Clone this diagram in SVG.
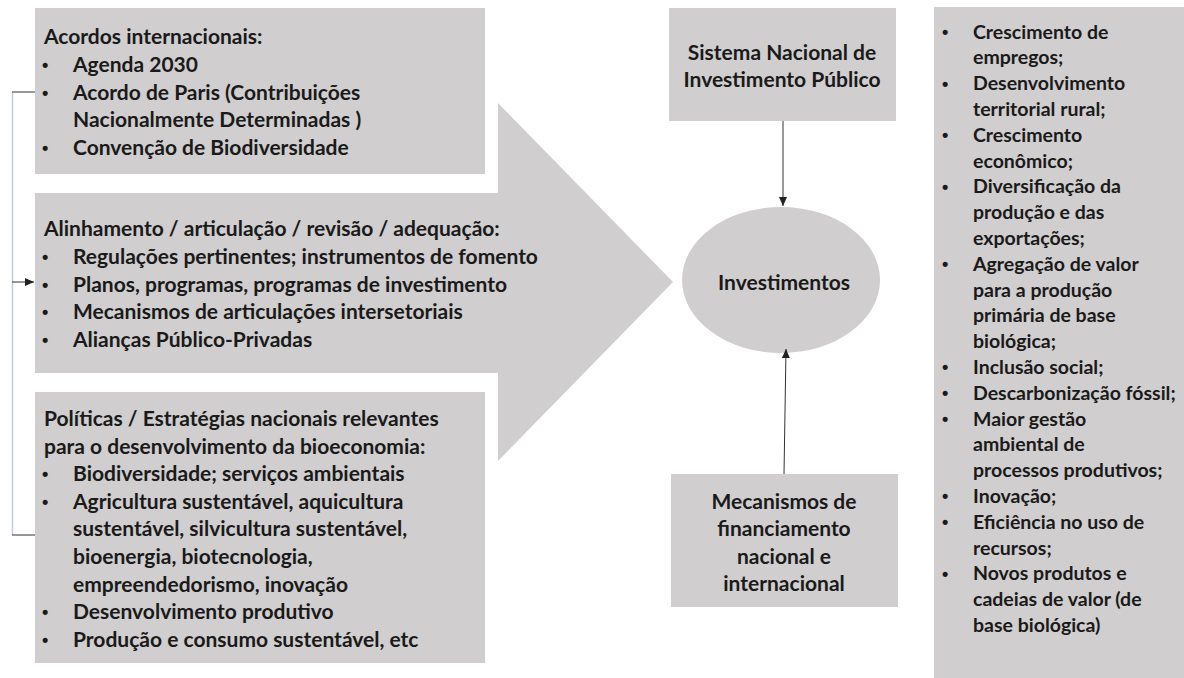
<svg xmlns="http://www.w3.org/2000/svg" width="1184" height="678" viewBox="0 0 1184 678">
  <defs>
    <style>
      .box { fill: #d0cece; }
      .t { font-family: Lato, "Open Sans", sans-serif; font-weight: bold; fill: #1a1a1a; font-size: 21px; }
      .r { font-family: Lato, "Open Sans", sans-serif; font-weight: bold; fill: #1a1a1a; font-size: 19.5px; }
      .c { text-anchor: middle; }
      .b { font-family: "Liberation Sans", Arial, sans-serif; font-weight: bold; fill: #1a1a1a; font-size: 18px; }
      .line { stroke: #333; stroke-width: 1; fill: none; }
      .vline { stroke: #c3cbe0; stroke-width: 1.5; fill: none; }
    </style>
    <marker id="arr" markerUnits="userSpaceOnUse" markerWidth="10" markerHeight="10" refX="9" refY="4" orient="auto">
      <path d="M0,0 L9,4 L0,8 Z" fill="#222"/>
    </marker>
  </defs>
  <rect width="1184" height="678" fill="#ffffff"/>

  <g id="big-arrow">
    <polygon class="box" points="35,193 498,193 498,103 673,282 498,461 498,373 35,373"/>
  </g>

  <g id="acordos">
    <rect class="box" x="35" y="8" width="450" height="166"/>
    <text class="t" x="44" y="44">Acordos internacionais:</text>
    <text class="b" x="42" y="71">•</text>
    <text class="t" x="73" y="72">Agenda 2030</text>
    <text class="b" x="42" y="99">•</text>
    <text class="t" x="73" y="100">Acordo de Paris (Contribuições</text>
    <text class="t" x="73" y="127">Nacionalmente Determinadas )</text>
    <text class="b" x="42" y="154">•</text>
    <text class="t" x="73" y="155">Convenção de Biodiversidade</text>
  </g>

  <g id="alinhamento">
    <text class="t" x="44" y="236">Alinhamento / articulação / revisão / adequação:</text>
    <text class="b" x="42" y="263">•</text>
    <text class="t" x="73" y="264">Regulações pertinentes; instrumentos de fomento</text>
    <text class="b" x="42" y="291">•</text>
    <text class="t" x="73" y="292">Planos, programas, programas de investimento</text>
    <text class="b" x="42" y="318">•</text>
    <text class="t" x="73" y="319">Mecanismos de articulações intersetoriais</text>
    <text class="b" x="42" y="346">•</text>
    <text class="t" x="73" y="347">Alianças Público-Privadas</text>
  </g>

  <g id="politicas">
    <rect class="box" x="35" y="392" width="450" height="271"/>
    <text class="t" x="44" y="426">Políticas / Estratégias nacionais relevantes</text>
    <text class="t" x="44" y="454">para o desenvolvimento da bioeconomia:</text>
    <text class="b" x="42" y="480">•</text>
    <text class="t" x="73" y="481">Biodiversidade; serviços ambientais</text>
    <text class="b" x="42" y="508">•</text>
    <text class="t" x="73" y="509">Agricultura sustentável, aquicultura</text>
    <text class="t" x="73" y="536">sustentável, silvicultura sustentável,</text>
    <text class="t" x="73" y="564">bioenergia, biotecnologia,</text>
    <text class="t" x="73" y="592">empreendedorismo, inovação</text>
    <text class="b" x="42" y="618">•</text>
    <text class="t" x="73" y="619">Desenvolvimento produtivo</text>
    <text class="b" x="42" y="646">•</text>
    <text class="t" x="73" y="647">Produção e consumo sustentável, etc</text>
  </g>

  <g id="sistema">
    <rect class="box" x="669" y="8" width="227" height="113"/>
    <text class="t c" x="782" y="60">Sistema Nacional de</text>
    <text class="t c" x="782" y="87">Investimento Público</text>
  </g>

  <g id="investimentos">
    <ellipse class="box" cx="781" cy="280" rx="99" ry="73"/>
    <text class="t c" x="784" y="290">Investimentos</text>
  </g>

  <g id="mecanismos">
    <rect class="box" x="671" y="474" width="227" height="133"/>
    <text class="t c" x="784" y="509">Mecanismos de</text>
    <text class="t c" x="784" y="536">financiamento</text>
    <text class="t c" x="784" y="564">nacional e</text>
    <text class="t c" x="784" y="591">internacional</text>
  </g>

  <g id="resultados">
    <rect class="box" x="934" y="7" width="260" height="680"/>
    <text class="b" x="942" y="38">•</text>
    <text class="r" x="973" y="38.5">Crescimento de</text>
    <text class="r" x="973" y="64.3">empregos;</text>
    <text class="b" x="942" y="89.6">•</text>
    <text class="r" x="973" y="90.1">Desenvolvimento</text>
    <text class="r" x="973" y="115.9">territorial rural;</text>
    <text class="b" x="942" y="141.2">•</text>
    <text class="r" x="973" y="141.7">Crescimento</text>
    <text class="r" x="973" y="167.5">econômico;</text>
    <text class="b" x="942" y="192.8">•</text>
    <text class="r" x="973" y="193.3">Diversificação da</text>
    <text class="r" x="973" y="219.1">produção e das</text>
    <text class="r" x="973" y="244.9">exportações;</text>
    <text class="b" x="942" y="270.2">•</text>
    <text class="r" x="973" y="270.7">Agregação de valor</text>
    <text class="r" x="973" y="296.5">para a produção</text>
    <text class="r" x="973" y="322.3">primária de base</text>
    <text class="r" x="973" y="348.1">biológica;</text>
    <text class="b" x="942" y="373.4">•</text>
    <text class="r" x="973" y="373.9">Inclusão social;</text>
    <text class="b" x="942" y="399.2">•</text>
    <text class="r" x="973" y="399.7">Descarbonização fóssil;</text>
    <text class="b" x="942" y="425">•</text>
    <text class="r" x="973" y="425.5">Maior gestão</text>
    <text class="r" x="973" y="451.3">ambiental de</text>
    <text class="r" x="973" y="477.1">processos produtivos;</text>
    <text class="b" x="942" y="502.4">•</text>
    <text class="r" x="973" y="502.9">Inovação;</text>
    <text class="b" x="942" y="528.2">•</text>
    <text class="r" x="973" y="528.7">Eficiência no uso de</text>
    <text class="r" x="973" y="554.5">recursos;</text>
    <text class="b" x="942" y="579.8">•</text>
    <text class="r" x="973" y="580.3">Novos produtos e</text>
    <text class="r" x="973" y="606.1">cadeias de valor (de</text>
    <text class="r" x="973" y="631.9">base biológica)</text>
  </g>

  <g id="connectors">
    <line class="vline" x1="12.5" y1="92" x2="12.5" y2="535"/>
    <line class="line" x1="12" y1="92" x2="35" y2="92"/>
    <line class="line" x1="12" y1="535" x2="35" y2="535"/>
    <line class="line" x1="12" y1="282" x2="34" y2="282" marker-end="url(#arr)"/>
    <line class="line" x1="783" y1="121" x2="783" y2="206" marker-end="url(#arr)"/>
    <line class="line" x1="784" y1="474" x2="786" y2="349" marker-end="url(#arr)"/>
  </g>
</svg>
